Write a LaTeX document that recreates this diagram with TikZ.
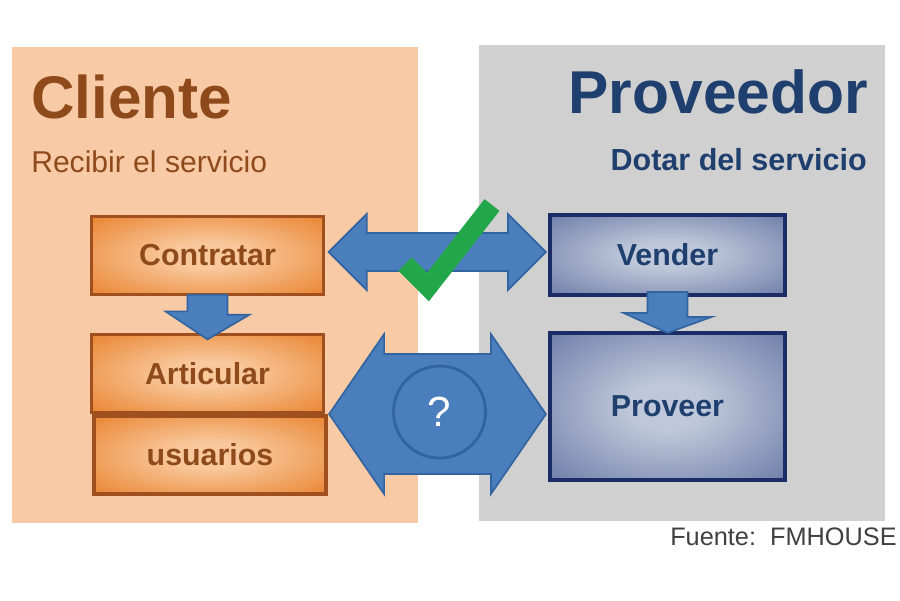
\documentclass[tikz,border=0pt]{standalone}
\usepackage{fontspec}
\setmainfont{Liberation Sans}
\usetikzlibrary{calc}

\definecolor{peach}{HTML}{F8CBA6}
\definecolor{panelgray}{HTML}{D0D0D0}
\definecolor{brownText}{HTML}{8F4A1C}
\definecolor{navyText}{HTML}{1F3F6E}
\definecolor{orangeEdge}{HTML}{E6761A}
\definecolor{orangeMid}{HTML}{F9C89C}
\definecolor{orangeLine}{HTML}{A0501E}
\definecolor{blueEdge}{HTML}{56689A}
\definecolor{blueMid}{HTML}{BFC8DA}
\definecolor{blueLine}{HTML}{1B2C66}
\definecolor{arrowFill}{HTML}{4A7EBD}
\definecolor{arrowLine}{HTML}{32649F}
\definecolor{checkGreen}{HTML}{22A64A}
\definecolor{noteGray}{HTML}{404040}

\pgfdeclareradialshading{orangeglow}{\pgfpoint{0bp}{0bp}}{color(0bp)=(orangeMid); color(8bp)=(orangeMid); color(42bp)=(orangeEdge); color(72bp)=(orangeEdge)}
\pgfdeclareradialshading{blueglow}{\pgfpoint{0bp}{0bp}}{color(0bp)=(blueMid); color(8bp)=(blueMid); color(44bp)=(blueEdge); color(72bp)=(blueEdge)}

\begin{document}
\begin{tikzpicture}[x=0.025cm,y=-0.025cm,
  clientbox/.style={rectangle,draw=orangeLine,line width=2.2pt,shading=orangeglow,
    text=brownText,font=\fontsize{21.6}{25}\selectfont\bfseries,inner sep=0pt,
    minimum width=5.78cm,minimum height=1.93cm},
  providerbox/.style={rectangle,draw=blueLine,line width=2.8pt,shading=blueglow,
    text=navyText,font=\fontsize{21.6}{25}\selectfont\bfseries,inner sep=0pt,
    minimum width=5.88cm},
  link/.style={fill=arrowFill,draw=arrowLine,line width=1.2pt,line join=miter}]
\useasboundingbox (0,0) rectangle (900,600);

% panels
\fill[peach] (12,47) rectangle (418,523);
\fill[panelgray] (479,45) rectangle (885,521);

% headings
\node[anchor=base west,inner sep=0pt,text=brownText,font=\fontsize{42.8}{46}\selectfont\bfseries] (cliente) at (31,118) {Cliente};
\node[anchor=base west,inner sep=0pt,text=brownText,font=\fontsize{21.4}{24}\selectfont] (recibir) at (31,172) {Recibir el servicio};
\node[anchor=base east,inner sep=0pt,text=navyText,font=\fontsize{43}{46}\selectfont\bfseries] (proveedor) at (868,113) {Proveedor};
\node[anchor=base east,inner sep=0pt,text=navyText,font=\fontsize{21.7}{25}\selectfont\bfseries] (dotar) at (867,170) {Dotar del servicio};

% boxes
\node[clientbox] (contratar) at (207.5,255.5) {Contratar};
\node[clientbox] (articular) at (207.5,373.5) {Articular};
\node[clientbox,minimum width=5.8cm,minimum height=1.95cm] (usuarios) at (210,455) {usuarios};
\node[providerbox,minimum height=2cm] (vender) at (667.5,255) {Vender};
\node[providerbox,minimum height=3.68cm] (proveer) at (667.5,406.5) {Proveer};

% down arrows
\filldraw[link] ($(contratar.south)+(-20,-1)$) -- ++(40,0) -- ++(0,20) -- ++(22,0)
  -- ($(articular.north)+(0,6)$) -- ++(-42,-28) -- ++(22,0) -- cycle;
\filldraw[link] ($(vender.south)+(-20,-5)$) -- ++(40,0) -- ++(0,25) -- ++(24,0)
  -- ($(proveer.north)+(0,2)$) -- ++(-44,-20) -- ++(24,0) -- cycle;

% contract link
\coordinate (tl) at ($(contratar.east)+(4,-3.5)$);
\coordinate (tr) at ($(vender.west)+(-2,-3)$);
\filldraw[link] (tl) -- ++(38,-38) -- ++(0,19) -- ($(tr)+(-38,-19)$) -- ++(0,-19) -- (tr)
  -- ++(-38,38) -- ++(0,-19) -- ($(tl)+(38,19)$) -- ++(0,19) -- cycle;

% service link
\coordinate (hl) at ($(articular.south east)!0.5!(usuarios.north east)+(3,0)$);
\coordinate (hr) at ($(hl -| proveer.west)+(-2,0)$);
\filldraw[link] (hl) -- ++(55,-80) -- ++(0,20) -- ($(hr)+(-55,-60)$) -- ++(0,-20) -- (hr)
  -- ++(-55,80) -- ++(0,-20) -- ($(hl)+(55,60)$) -- ++(0,20) -- cycle;
\node[circle,fill=arrowFill,draw=arrowLine,line width=2pt,minimum size=2.3cm,inner sep=0pt,
  text=white,font=\fontsize{30}{30}\selectfont] (duda) at ($(hl)!0.5!(hr)+(2,-2)$) {?};

% check
\draw[checkGreen,line width=0.475cm,line join=miter] (405,264) -- (428,287) -- (492,205);

\node[anchor=base east,inner sep=0pt,text=noteGray,font=\fontsize{18}{22}\selectfont] (fuente) at (897,545) {Fuente:\ \ FMHOUSE};
\end{tikzpicture}
\end{document}
